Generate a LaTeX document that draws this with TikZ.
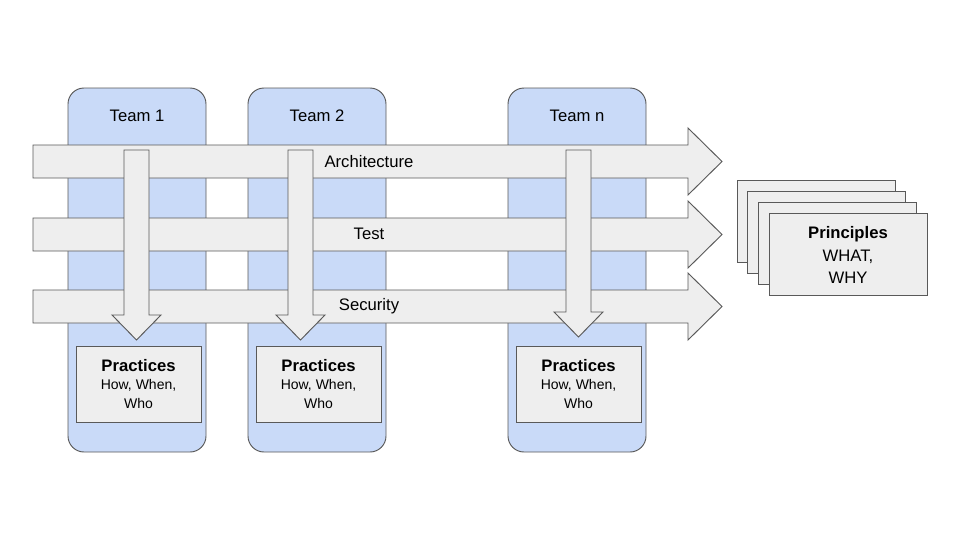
\documentclass[tikz,border=0pt]{standalone}
\usepackage{fontspec}
\setmainfont{Liberation Sans}
\begin{document}
\begin{tikzpicture}[x=0.75pt,y=-0.75pt,
  team/.style={draw=black!65,fill=blue!20!cyan!10!white,line width=0.7pt,rounded corners=12pt},
  arr/.style={draw=black!65,fill=black!7,line width=0.7pt,line join=miter},
  box/.style={draw=black!65,fill=black!7,line width=0.7pt},
  lbl/.style={font=\fontsize{12.5}{15}\selectfont},
  txt/.style={align=center,font=\fontsize{10.5}{14}\selectfont}]
\definecolor{teamc}{HTML}{C9DAF8}
\definecolor{boxc}{HTML}{EEEEEE}
\useasboundingbox (0,0) rectangle (960,540);
% team columns
\foreach \x/\n in {68/t1,248/t2,508/tn}{
  \draw[team,fill=teamc] (\x,88) rectangle ++(138,364);
}
\node[lbl] (l1) at (137,116) {Team 1};
\node[lbl] (l2) at (317,116) {Team 2};
\node[lbl] (ln) at (577,116) {Team n};
% horizontal arrows
\foreach \y in {145,218,290}{
  \draw[arr,fill=boxc] (33,\y) -- (688,\y) -- (688,\y-17) -- (722,\y+16.5) -- (688,\y+50) -- (688,\y+33) -- (33,\y+33) -- cycle;
}
\node[lbl] (a1) at (369,162) {Architecture};
\node[lbl] (a2) at (369,234) {Test};
\node[lbl] (a3) at (369,306) {Security};
% vertical arrows
\foreach \x/\t in {124/340,288/340,566/337}{
  \draw[arr,fill=boxc] (\x,150) -- (\x+25,150) -- (\x+25,\t-25) -- (\x+37,\t-25) -- (\x+12.5,\t) -- (\x-12,\t-25) -- (\x,\t-25) -- cycle;
}
% practices
\foreach \x/\n in {76/p1,256/p2,516/pn}{
  \draw[box,fill=boxc] (\x,346) rectangle ++(125,76);
  \node[txt] (\n) at (\x+62.5,384) {{\fontsize{12.5}{15}\selectfont\bfseries Practices}\\How, When,\\Who};
}
% principles
\foreach \x/\y in {737/180,747/191,758/202}{
  \draw[box,fill=boxc] (\x,\y) rectangle ++(158,82);
}
\draw[box,fill=boxc] (769,213) rectangle (927,295);
\node[align=center,font=\fontsize{12.5}{17}\selectfont] (pr) at (848,255) {\textbf{Principles}\\WHAT,\\WHY};
\end{tikzpicture}
\end{document}
